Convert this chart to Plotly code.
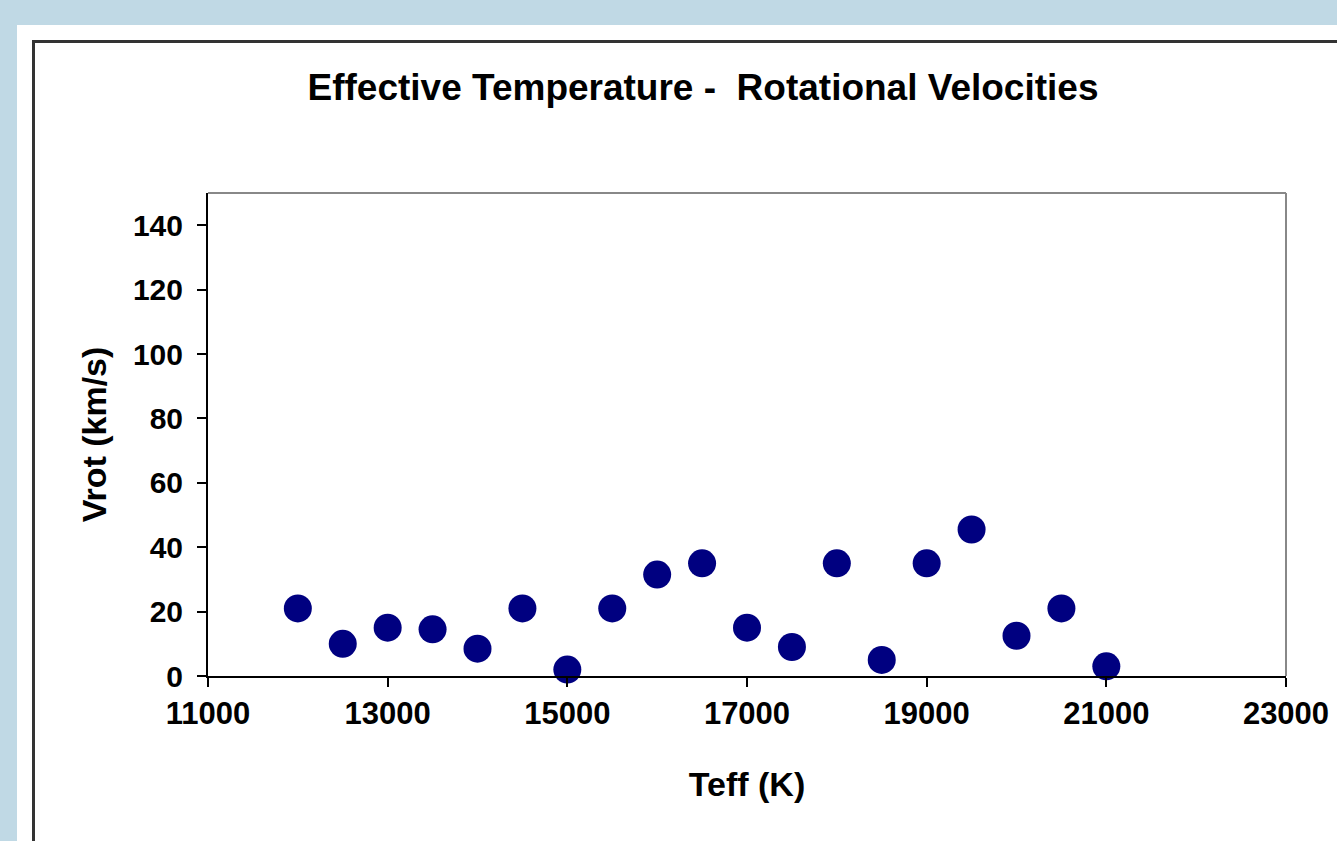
import plotly.graph_objects as go

# Data
teff = [12000, 12500, 13000, 13500, 14000, 14500, 15000, 15500, 16000, 16500,
        17000, 17500, 18000, 18500, 19000, 19500, 20000, 20500, 21000]
vrot = [21, 10, 15, 14.5, 8.5, 21, 2, 21, 31.5, 35,
        15, 9, 35, 5, 35, 45.5, 12.5, 21, 3]

x_ticks = [11000, 13000, 15000, 17000, 19000, 21000, 23000]
y_ticks = [0, 20, 40, 60, 80, 100, 120, 140]

W, H = 1337, 841
L, R, T, B = 208, 51, 193, 165
pw, ph = W - L - R, H - T - B

def px(xp):
    return (xp - L) / pw

def py(yp):
    return (H - B - yp) / ph

font_family = "Liberation Sans, Arial, sans-serif"

fig = go.Figure()
fig.add_trace(go.Scatter(
    x=teff, y=vrot, mode="markers",
    marker=dict(color="#000080", size=28, line=dict(width=0)),
    cliponaxis=False, showlegend=False,
))

shapes = [
    # white sheet
    dict(type="rect", xref="paper", yref="paper", layer="below",
         x0=px(17), x1=px(W + 50), y0=py(H + 50), y1=py(25),
         fillcolor="white", line=dict(width=0)),
    # chart border
    dict(type="rect", xref="paper", yref="paper", layer="below",
         x0=px(33.5), x1=px(W + 50), y0=py(H + 50), y1=py(41.5),
         fillcolor="rgba(0,0,0,0)", line=dict(color="#333333", width=3)),
    # plot area top & right border (gray)
    dict(type="line", xref="paper", yref="paper", x0=0, x1=1, y0=1, y1=1,
         line=dict(color="#888888", width=2)),
    dict(type="line", xref="paper", yref="paper", x0=1, x1=1, y0=0, y1=1,
         line=dict(color="#888888", width=2)),
]

fig.update_layout(
    width=W, height=H,
    margin=dict(l=L, r=R, t=T, b=B, autoexpand=False),
    paper_bgcolor="#c0d9e5",
    plot_bgcolor="white",
    font=dict(family=font_family, color="black"),
    title=dict(text="Effective Temperature -  Rotational Velocities",
               x=703 / W, xref="container", xanchor="center",
               y=1 - 87 / H, yref="container", yanchor="middle",
               font=dict(size=37, weight="bold", family=font_family)),
    shapes=shapes,
    xaxis=dict(range=[11000, 23000], tickvals=x_ticks,
               ticktext=[str(v) for v in x_ticks],
               showgrid=False, zeroline=False,
               showline=True, linecolor="black", linewidth=2,
               ticks="outside", ticklen=9, tickwidth=2, tickcolor="black",
               tickfont=dict(size=31, weight="bold"),
               title=dict(text="Teff (K)", standoff=42,
                          font=dict(size=34, weight="bold")),
               automargin=False),
    yaxis=dict(range=[0, 150], tickvals=y_ticks,
               ticktext=[str(v) for v in y_ticks],
               showgrid=False, zeroline=False,
               showline=True, linecolor="black", linewidth=2,
               ticks="outside", ticklen=9, tickwidth=2, tickcolor="black",
               ticklabelstandoff=8,
               tickfont=dict(size=30, weight="bold"),
               title=dict(text="Vrot (km/s)", standoff=16,
                          font=dict(size=34, weight="bold")),
               automargin=False),
)

fig.write_html(
    "out.html",
    config={"displayModeBar": False},
    post_script="document.body.style.margin='0';document.body.style.overflow='hidden';",
)
